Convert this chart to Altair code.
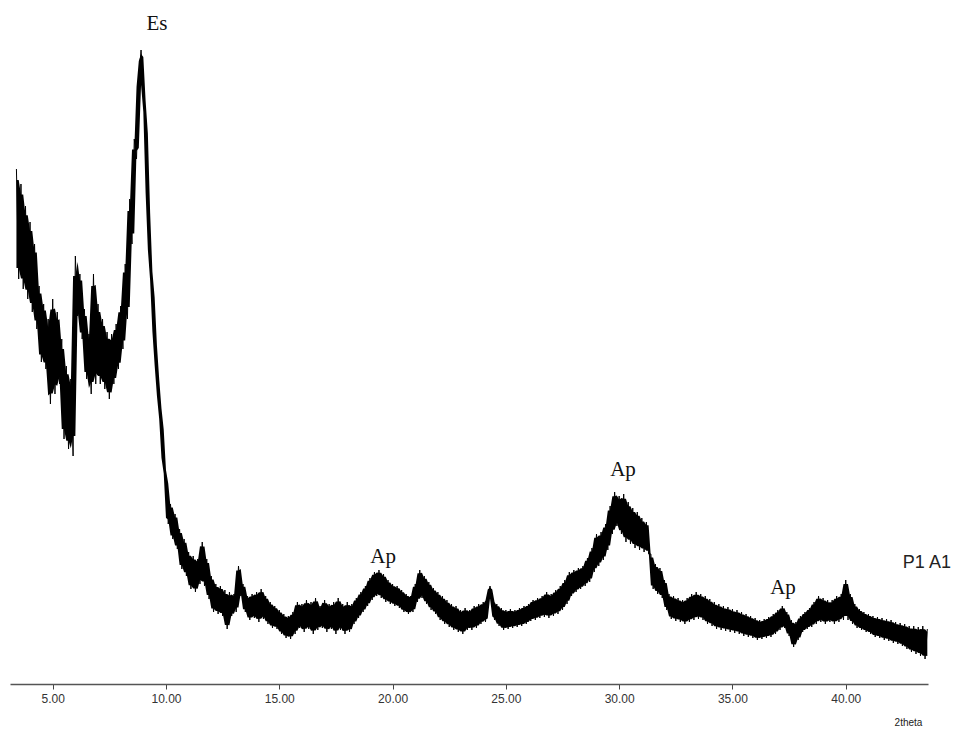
import altair as alt
import pandas as pd

# XRD scan: start angle and step (degrees 2theta)
SCAN_START = 3.4
SCAN_STEP = 0.1

# Intensity (arbitrary units), one row per 1 degree
intensity_rows = [
    [515, 405, 500, 395, 478, 385, 462, 372, 440, 355],   # 3.4 - 4.3
    [398, 322, 380, 315, 365, 280, 385, 290, 372, 300],   # 4.4 - 5.3
    [345, 245, 318, 235, 305, 228, 428, 368, 410, 345],   # 5.4 - 6.3
    [375, 305, 350, 290, 410, 300, 380, 300, 365, 295],   # 6.4 - 7.3
    [352, 285, 350, 300, 360, 315, 378, 335, 420, 365],   # 7.4 - 8.3
    [485, 440, 545, 525, 605, 634, 595, 565, 480, 420],   # 8.4 - 9.3
    [395, 345, 310, 282, 260, 220, 205, 160, 180, 145],   # 9.4 - 10.3
    [170, 135, 155, 115, 145, 108, 132, 95, 128, 92],     # 10.4 - 11.3
    [125, 100, 142, 98, 125, 85, 108, 72, 100, 70],       # 11.4 - 12.3
    [98, 68, 94, 55, 92, 68, 90, 72, 118, 88],            # 12.4 - 13.3
    [100, 72, 88, 64, 90, 66, 92, 62, 95, 65],            # 13.4 - 14.3
    [88, 60, 82, 56, 78, 55, 74, 50, 70, 46],             # 14.4 - 15.3
    [68, 45, 72, 50, 82, 56, 80, 52, 84, 55],             # 15.4 - 16.3
    [82, 50, 86, 54, 78, 56, 84, 52, 80, 55],             # 16.4 - 17.3
    [82, 50, 86, 54, 80, 50, 82, 52, 80, 60],             # 17.4 - 18.3
    [86, 66, 92, 72, 98, 78, 106, 84, 112, 88],           # 18.4 - 19.3
    [114, 86, 110, 82, 104, 80, 100, 78, 98, 76],         # 19.4 - 20.3
    [94, 72, 90, 70, 88, 72, 100, 82, 114, 86],           # 20.4 - 21.3
    [108, 80, 102, 74, 96, 70, 92, 64, 88, 60],           # 21.4 - 22.3
    [84, 57, 80, 54, 78, 52, 74, 50, 76, 54],             # 22.4 - 23.3
    [74, 54, 78, 56, 80, 60, 82, 62, 86, 98],             # 23.4 - 24.3
    [84, 64, 80, 58, 76, 54, 74, 55, 75, 56],             # 24.4 - 25.3
    [74, 57, 76, 58, 78, 60, 80, 63, 84, 64],             # 25.4 - 26.3
    [86, 66, 88, 67, 92, 66, 90, 68, 94, 70],             # 26.4 - 27.3
    [98, 74, 104, 80, 112, 88, 114, 92, 116, 95],         # 27.4 - 28.3
    [118, 98, 126, 102, 136, 112, 150, 118, 152, 124],    # 28.4 - 29.3
    [160, 134, 178, 150, 192, 158, 188, 150, 190, 142],   # 29.4 - 30.3
    [182, 140, 176, 136, 172, 134, 166, 132, 162, 130],   # 30.4 - 31.3
    [130, 95, 120, 90, 116, 86, 104, 74, 90, 65],         # 31.4 - 32.3
    [88, 63, 86, 62, 84, 60, 86, 62, 90, 64],             # 32.4 - 33.3
    [92, 65, 90, 64, 88, 60, 85, 58, 82, 55],             # 33.4 - 34.3
    [80, 54, 78, 53, 77, 52, 75, 51, 74, 50],             # 34.4 - 35.3
    [72, 48, 70, 47, 68, 46, 66, 44, 64, 45],             # 35.4 - 36.3
    [65, 46, 67, 47, 70, 50, 74, 54, 78, 56],             # 36.4 - 37.3
    [72, 48, 64, 37, 62, 44, 68, 52, 72, 55],             # 37.4 - 38.3
    [76, 57, 82, 60, 88, 62, 86, 60, 84, 62],             # 38.4 - 39.3
    [84, 60, 88, 62, 90, 64, 104, 64, 90, 60],            # 39.4 - 40.3
    [80, 56, 75, 54, 72, 52, 70, 50, 68, 47],             # 40.4 - 41.3
    [67, 46, 66, 44, 65, 43, 64, 41, 62, 40],             # 41.4 - 42.3
    [61, 38, 60, 35, 58, 32, 58, 30, 57, 28],             # 42.4 - 43.3
    [58, 25, 55],                                          # 43.4 - 43.6
]

# Peak annotations
label_text = ["Es", "Ap", "Ap", "Ap"]
label_angle = [9.60, 19.58, 30.17, 37.23]
label_int = [660, 127, 214, 96]

sample_text = ["P1 A1"]
sample_angle = [43.58]
sample_int = [121]

x_ticks = [5, 10, 15, 20, 25, 30, 35, 40]

intensity = [v for row in intensity_rows for v in row]
angles = [round(SCAN_START + SCAN_STEP * i, 2) for i in range(len(intensity))]
scan = pd.DataFrame({"angle": angles, "intensity": intensity})

x_scale = alt.Scale(domain=[3.116, 43.63], nice=False, zero=False)
y_scale = alt.Scale(domain=[0, 684], nice=False, zero=True)

x_axis = alt.Axis(values=x_ticks, format=".2f", title="2theta",
                  grid=False, domainColor="#555555", domainWidth=1.6,
                  tickColor="#444444", tickSize=5, tickWidth=1,
                  labelFont="Liberation Sans", labelFontSize=12,
                  labelColor="#333333", labelPadding=4,
                  titleFont="Liberation Sans", titleFontSize=10,
                  titleFontWeight="normal", titleColor="#222222",
                  titleX=898, titleY=38, titleAlign="center",
                  titleBaseline="middle")

base = alt.Chart(scan)

# dense core of the noise band, between neighbouring readings of the scan
band = base.transform_window(
    hi="max(intensity)", lo="min(intensity)",
    sort=[alt.SortField("angle")], frame=[-1, 1]
).transform_calculate(
    core_hi="datum.hi - 0.1 * (datum.hi - datum.lo)",
    core_lo="datum.lo + 0.1 * (datum.hi - datum.lo)",
).mark_area(color="black", opacity=1, interpolate="linear").encode(
    x=alt.X("angle:Q", scale=x_scale, axis=x_axis),
    y=alt.Y("core_hi:Q", scale=y_scale, axis=None),
    y2="core_lo:Q",
)

line = base.mark_line(color="black", strokeWidth=1.0, interpolate="linear").encode(
    x=alt.X("angle:Q", scale=x_scale),
    y=alt.Y("intensity:Q", scale=y_scale),
)

labels_df = pd.DataFrame({"t": label_text, "a": label_angle, "i": label_int})
labels = alt.Chart(labels_df).mark_text(
    font="Liberation Serif", fontSize=21, color="#111111",
    align="center", baseline="middle"
).encode(
    x=alt.X("a:Q", scale=x_scale),
    y=alt.Y("i:Q", scale=y_scale),
    text="t:N",
)

sample_df = pd.DataFrame({"t": sample_text, "a": sample_angle, "i": sample_int})
sample = alt.Chart(sample_df).mark_text(
    font="Liberation Sans", fontSize=18, color="#222222",
    align="center", baseline="middle"
).encode(
    x=alt.X("a:Q", scale=x_scale),
    y=alt.Y("i:Q", scale=y_scale),
    text="t:N",
)

chart = alt.layer(band, line, labels, sample).properties(
    width=918, height=684,
    autosize=alt.AutoSizeParams(type="none"),
    padding={"left": 10, "top": 0, "right": 33, "bottom": 47},
    background="white",
).configure_view(stroke=None)

chart.save("out.html", embed_options={"renderer": "svg", "actions": False})
